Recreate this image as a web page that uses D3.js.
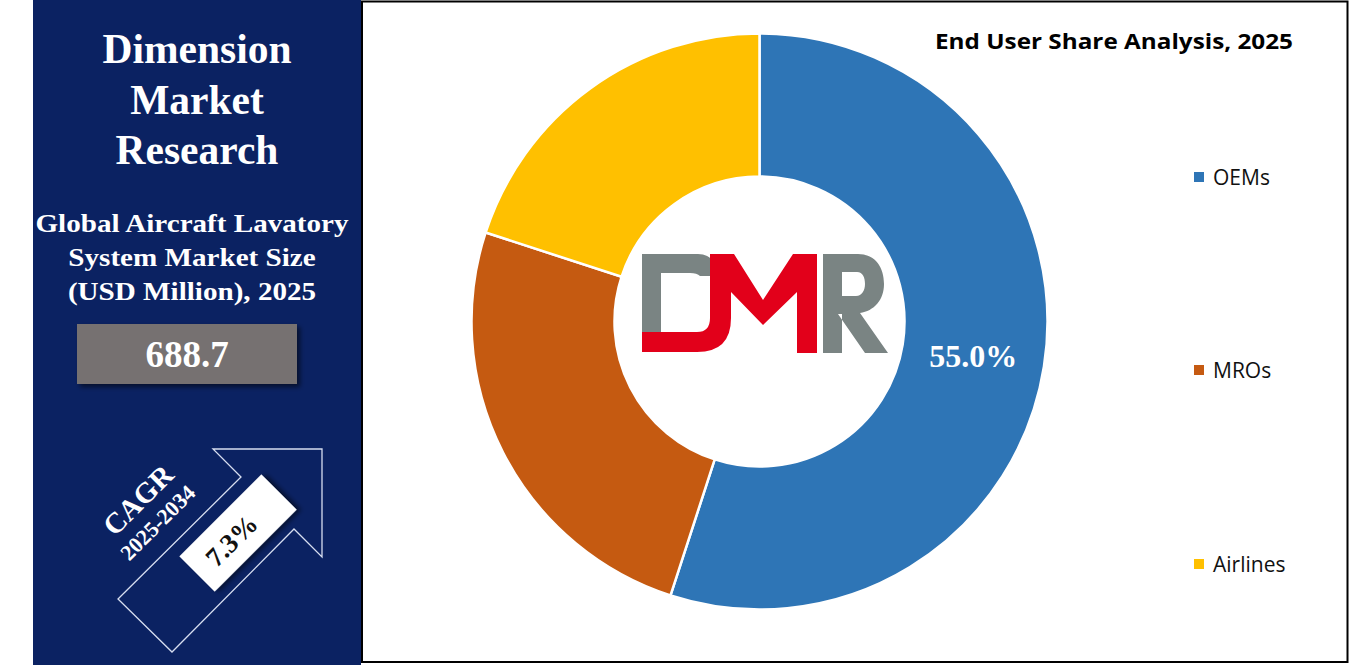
<!DOCTYPE html>
<html>
<head>
<meta charset="utf-8">
<script src="https://cdn.jsdelivr.net/npm/d3@7"></script>
<style>
  html, body { margin: 0; padding: 0; background: #ffffff; }
  svg { display: block; }
</style>
</head>
<body>
<svg id="chart" width="1354" height="665"></svg>
<script>
// ---- Data ----
const categories = ["OEMs", "MROs", "Airlines"];
const shares = [55.0, 25.0, 20.0];
const colors = ["#2e75b6", "#c55a11", "#ffc000"];
const labeledCategories = ["OEMs"];
const chartTitle = "End User Share Analysis, 2025";
const brandLines = ["Dimension", "Market", "Research"];
const subtitleLines = ["Global Aircraft Lavatory", "System Market Size", "(USD Million), 2025"];
const marketValue = "688.7";
const cagrLabel = "CAGR";
const cagrPeriod = "2025-2034";
const cagrValue = "7.3%";

const svg = d3.select("#chart");
const W = 1354, H = 665;
const serif = "'Liberation Serif', 'Times New Roman', serif";
const sans = "'Open Sans', 'Liberation Sans', sans-serif";

const defs = svg.append("defs");
const sh = defs.append("filter").attr("id", "shadow").attr("x", "-20%").attr("y", "-20%").attr("width", "150%").attr("height", "150%");
sh.append("feDropShadow").attr("dx", 3).attr("dy", 3).attr("stdDeviation", 2.5).attr("flood-color", "#000").attr("flood-opacity", 0.55);

// ---- Left panel ----
svg.append("rect").attr("x", 33).attr("y", 0).attr("width", 328).attr("height", H).attr("fill", "#0b2262");

svg.append("g").selectAll("text").data(brandLines).join("text")
  .attr("x", 197).attr("y", (d, i) => 63 + i * 50.5)
  .attr("text-anchor", "middle").attr("fill", "#fff")
  .attr("font-family", serif).attr("font-weight", "bold").attr("font-size", 41.5)
  .text(d => d);

svg.append("g").attr("transform", "translate(192,0) scale(1.12,1)")
  .selectAll("text").data(subtitleLines).join("text")
  .attr("x", 0).attr("y", (d, i) => 232 + i * 34)
  .attr("text-anchor", "middle").attr("fill", "#fff")
  .attr("font-family", serif).attr("font-weight", "bold").attr("font-size", 26)
  .text(d => d);

svg.append("rect").attr("x", 77).attr("y", 324).attr("width", 220).attr("height", 60)
  .attr("fill", "#767171").attr("filter", "url(#shadow)");
svg.append("text").attr("x", 187).attr("y", 367).attr("text-anchor", "middle")
  .attr("fill", "#fff").attr("font-family", serif).attr("font-weight", "bold").attr("font-size", 37)
  .text(marketValue);

// arrow outline
const arrowPts = [[118, 599], [241, 477], [213, 449], [322, 449], [322, 557], [294, 529], [172, 652]];
svg.append("path").attr("d", d3.line()(arrowPts) + "Z")
  .attr("fill", "none").attr("stroke", "#d7def0").attr("stroke-width", 1.3);

// white rotated box with value
const boxG = svg.append("g").attr("transform", "translate(238,533) rotate(-45)");
boxG.append("rect").attr("x", -58).attr("y", -25).attr("width", 116).attr("height", 50)
  .attr("fill", "#fff").attr("filter", "url(#shadow)");
boxG.append("text").attr("x", -10).attr("y", 10).attr("text-anchor", "middle")
  .attr("fill", "#111").attr("font-family", serif).attr("font-weight", "bold").attr("font-size", 27)
  .text(cagrValue);

svg.append("text").attr("transform", "translate(145,507) rotate(-45)").attr("text-anchor", "middle")
  .attr("fill", "#fff").attr("font-family", serif).attr("font-weight", "bold").attr("font-size", 29)
  .text(cagrLabel);
svg.append("text").attr("transform", "translate(163,528) rotate(-45)").attr("text-anchor", "middle")
  .attr("fill", "#fff").attr("font-family", serif).attr("font-weight", "bold").attr("font-size", 22)
  .text(cagrPeriod);

// ---- Right panel frame ----
svg.append("rect").attr("x", 362).attr("y", 1.5).attr("width", 985.5).attr("height", 660.5)
  .attr("fill", "#fff").attr("stroke", "#000").attr("stroke-width", 2);

svg.append("text").attr("x", 935).attr("y", 49)
  .attr("font-family", sans).attr("font-weight", "bold").attr("font-size", 21)
  .attr("textLength", 358).attr("lengthAdjust", "spacingAndGlyphs")
  .attr("fill", "#000").text(chartTitle);

// ---- Donut ----
const cx = 759.5, cy = 321.5, rOuter = 288, rInner = 145;
const pie = d3.pie().sort(null).value(d => d.v);
const arcs = pie(categories.map((c, i) => ({ c, v: shares[i] })));
const color = d3.scaleOrdinal().domain(categories).range(colors);
const arc = d3.arc().innerRadius(rInner).outerRadius(rOuter);
const labelArc = d3.arc().innerRadius(rInner).outerRadius(rOuter);

const g = svg.append("g").attr("transform", `translate(${cx},${cy})`);
g.selectAll("path").data(arcs).join("path")
  .attr("d", arc).attr("fill", d => color(d.data.c))
  .attr("stroke", "#fff").attr("stroke-width", 2.5);

g.selectAll("text.lbl").data(arcs.filter(d => labeledCategories.includes(d.data.c))).join("text")
  .attr("class", "lbl")
  .attr("transform", d => { const [x, y] = labelArc.centroid(d); return `translate(${x},${y})`; })
  .attr("dy", "0.35em").attr("text-anchor", "middle")
  .attr("fill", "#fff").attr("font-family", serif).attr("font-weight", "bold").attr("font-size", 32)
  .text(d => d.data.v.toFixed(1) + "%");

// ---- DMR logo ----
const logo = svg.append("g");
logo.append("path")
  .attr("d", "M642,254 L698,254 Q712,254 716,268 L718,276 L700,276 Q697,273 690,273 L661,273 L661,332 L642,332 Z")
  .attr("fill", "#7a8483");
logo.append("path")
  .attr("d", "M710,254 L734,254 L763,300 L793,254 L817,254 L817,353 L797,353 L797,292 L763,325 L731,292 L731,318 Q731,352 697,352 L642,352 L642,332 L697,332 Q710,332 710,318 Z")
  .attr("fill", "#e2001a");
logo.append("path").attr("fill-rule", "evenodd")
  .attr("d", "M823,254 L858,254 C876,254 884,268 884,284 C884,300 874,311 860,313 L888,353 L865,353 L838,314 L842,314 L842,353 L823,353 Z " +
             "M842,272 L857,272 C863,272 865,278 865,284 C865,290 862,296 856,296 L842,296 Z")
  .attr("fill", "#7a8483");

// ---- Legend ----
const legendY = [177, 370, 564];
const lg = svg.append("g").selectAll("g").data(categories).join("g")
  .attr("transform", (d, i) => `translate(1194,${legendY[i]})`);
lg.append("rect").attr("x", 0).attr("y", -5).attr("width", 10).attr("height", 10).attr("fill", d => color(d));
lg.append("text").attr("x", 19).attr("y", 0).attr("dy", "0.36em")
  .attr("font-family", sans).attr("font-size", 21).attr("fill", "#111").text(d => d);
</script>
</body>
</html>
